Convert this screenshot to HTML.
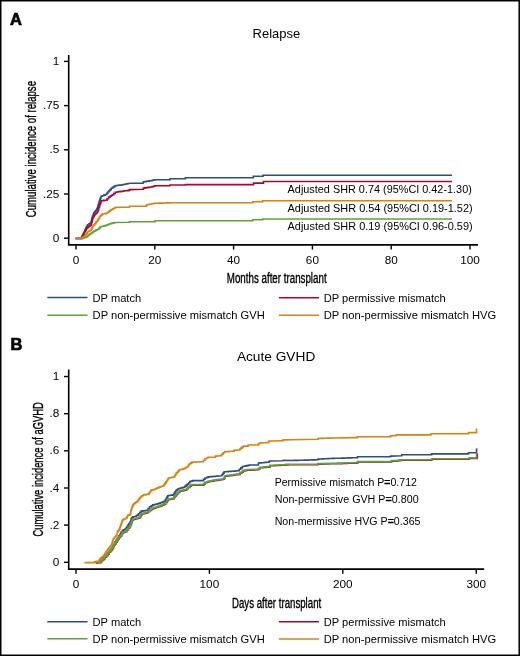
<!DOCTYPE html>
<html><head><meta charset="utf-8"><title>Relapse and Acute GVHD</title>
<style>
html,body{margin:0;padding:0;background:#fff;}
body{width:520px;height:656px;overflow:hidden;}
svg{display:block;will-change:transform;}
text{font-family:"Liberation Sans",sans-serif;fill:#000;}
</style></head><body>
<svg width="520" height="656" viewBox="0 0 520 656">
<rect x="0.75" y="0.75" width="518.45" height="654.5" fill="#fff" stroke="#000" stroke-width="1.5"/>
<text x="10" y="24.7" font-size="16.5" text-anchor="start" font-weight="bold" stroke="#000" stroke-width="0.7">A</text>
<text x="252.6" y="37.5" font-size="13.6" text-anchor="start" font-weight="normal" textLength="47.6" lengthAdjust="spacingAndGlyphs">Relapse</text>
<path d="M68.7,55 V245.7 M68,244.9 H478" stroke="#000" stroke-width="1.6" fill="none"/>
<path d="M64,61.4 H68.5" stroke="#000" stroke-width="1.4"/>
<text x="59.4" y="65.0" font-size="10.7" text-anchor="end" font-weight="normal" textLength="6.55" lengthAdjust="spacingAndGlyphs">1</text>
<path d="M64,105.6 H68.5" stroke="#000" stroke-width="1.4"/>
<text x="59.4" y="109.19999999999999" font-size="10.7" text-anchor="end" font-weight="normal" textLength="16.36" lengthAdjust="spacingAndGlyphs">.75</text>
<path d="M64,149.8 H68.5" stroke="#000" stroke-width="1.4"/>
<text x="59.4" y="153.4" font-size="10.7" text-anchor="end" font-weight="normal" textLength="9.81" lengthAdjust="spacingAndGlyphs">.5</text>
<path d="M64,194 H68.5" stroke="#000" stroke-width="1.4"/>
<text x="59.4" y="197.6" font-size="10.7" text-anchor="end" font-weight="normal" textLength="16.36" lengthAdjust="spacingAndGlyphs">.25</text>
<path d="M64,238.2 H68.5" stroke="#000" stroke-width="1.4"/>
<text x="59.4" y="241.79999999999998" font-size="10.7" text-anchor="end" font-weight="normal" textLength="6.55" lengthAdjust="spacingAndGlyphs">0</text>
<path d="M76,245.5 V249.5" stroke="#000" stroke-width="1.4"/>
<text x="76" y="263.7" font-size="10.7" text-anchor="middle" font-weight="normal" textLength="6.55" lengthAdjust="spacingAndGlyphs">0</text>
<path d="M154.8,245.5 V249.5" stroke="#000" stroke-width="1.4"/>
<text x="154.8" y="263.7" font-size="10.7" text-anchor="middle" font-weight="normal" textLength="13.09" lengthAdjust="spacingAndGlyphs">20</text>
<path d="M233.6,245.5 V249.5" stroke="#000" stroke-width="1.4"/>
<text x="233.6" y="263.7" font-size="10.7" text-anchor="middle" font-weight="normal" textLength="13.09" lengthAdjust="spacingAndGlyphs">40</text>
<path d="M312.4,245.5 V249.5" stroke="#000" stroke-width="1.4"/>
<text x="312.4" y="263.7" font-size="10.7" text-anchor="middle" font-weight="normal" textLength="13.09" lengthAdjust="spacingAndGlyphs">60</text>
<path d="M391.2,245.5 V249.5" stroke="#000" stroke-width="1.4"/>
<text x="391.2" y="263.7" font-size="10.7" text-anchor="middle" font-weight="normal" textLength="13.09" lengthAdjust="spacingAndGlyphs">80</text>
<path d="M470,245.5 V249.5" stroke="#000" stroke-width="1.4"/>
<text x="470" y="263.7" font-size="10.7" text-anchor="middle" font-weight="normal" textLength="19.64" lengthAdjust="spacingAndGlyphs">100</text>
<text x="226.8" y="283.3" font-size="14" text-anchor="start" font-weight="normal" textLength="99.8" lengthAdjust="spacingAndGlyphs" stroke="#000" stroke-width="0.35">Months after transplant</text>
<text transform="translate(35.9,217.2) rotate(-90)" x="0" y="0" font-size="14" textLength="136.2" lengthAdjust="spacingAndGlyphs" stroke="#000" stroke-width="0.35">Cumulative incidence of relapse</text>
<polyline points="75.5,238.3 81.3,238.3 81.6,238.3 81.6,237.1 82.3,237.1 82.3,235.8 83.0,235.8 83.0,234.4 83.7,234.4 83.7,233.2 84.0,233.2 84.3,233.2 84.3,231.8 84.8,231.8 84.8,230.3 85.4,230.3 85.4,229.0 86.0,229.0 86.0,227.6 86.5,227.6 86.5,226.2 86.8,226.2 87.5,226.2 87.5,224.9 88.9,224.9 88.9,223.7 90.4,223.7 90.4,222.5 91.1,222.5 91.2,222.5 91.2,221.2 91.5,221.2 91.5,220.0 91.8,220.0 91.8,218.8 92.1,218.8 92.1,217.6 92.3,217.6 92.6,217.6 92.6,216.0 93.2,216.0 93.2,214.3 93.8,214.3 93.8,212.8 94.1,212.8 94.6,212.8 94.6,211.5 95.7,211.5 95.7,210.3 96.7,210.3 96.7,209.1 97.2,209.1 97.4,209.1 97.4,207.6 97.8,207.6 97.8,206.2 98.2,206.2 98.2,204.8 98.6,204.8 98.6,203.4 99.0,203.4 99.0,202.0 99.4,202.0 99.4,200.6 99.6,200.6 99.9,200.6 99.9,199.1 100.5,199.1 100.5,197.7 101.1,197.7 101.1,196.2 101.4,196.2 102.2,196.2 102.2,195.7 103.7,195.7 103.7,195.1 104.5,195.1 105.4,195.1 105.4,194.5 106.3,194.5 106.8,194.5 106.8,193.2 107.8,193.2 107.8,192.0 108.9,192.0 108.9,190.8 109.4,190.8 110.0,190.8 110.0,189.6 111.2,189.6 111.2,188.3 111.8,188.3 112.4,188.3 112.4,187.4 113.7,187.4 113.7,186.6 114.9,186.6 114.9,185.7 115.5,185.7 116.3,185.7 116.3,185.5 117.8,185.5 117.8,185.3 119.3,185.3 119.3,185.1 120.8,185.1 120.8,185.0 121.6,185.0 122.2,185.0 122.2,184.7 123.4,184.7 123.4,184.5 124.0,184.5 124.6,184.5 124.6,184.2 125.8,184.2 125.8,184.0 127.1,184.0 127.1,183.7 128.3,183.7 128.3,183.5 128.9,183.5 130.1,183.2 143.1,183.2 143.1,182.2 143.7,182.2 143.7,181.8 145.0,181.8 145.0,181.6 146.3,181.6 146.3,181.2 146.9,181.2 147.7,181.2 147.7,181.1 149.2,181.1 149.2,180.8 150.7,180.8 150.7,180.7 151.5,180.7 152.2,180.7 152.2,180.3 153.4,180.3 153.4,180.0 154.8,180.0 154.8,179.7 155.4,179.7 170.0,179.7 170.0,178.7 185.4,178.7 185.4,177.7 253.3,177.7 253.3,176.2 263.0,176.2 263.0,175.2 452.0,175.2" fill="none" stroke="#2e4e82" stroke-width="1.6" stroke-linejoin="miter" stroke-linecap="butt"/>
<polyline points="75.5,238.6 81.3,238.6 81.8,238.6 81.8,237.0 82.2,237.0 82.5,237.0 82.5,235.6 83.2,235.6 83.2,234.2 84.0,234.2 84.0,232.7 84.7,232.7 84.7,231.3 85.0,231.3 85.4,231.3 85.4,230.1 86.2,230.1 86.2,228.8 87.0,228.8 87.0,227.6 87.4,227.6 88.0,227.6 88.0,226.8 89.2,226.8 89.2,226.0 90.5,226.0 90.5,225.2 91.1,225.2 91.3,225.2 91.3,223.7 91.6,223.7 91.6,222.2 92.0,222.2 92.0,220.8 92.4,220.8 92.4,219.3 92.7,219.3 92.7,217.8 92.9,217.8 93.3,217.8 93.3,216.6 94.1,216.6 94.1,215.4 94.9,215.4 94.9,214.2 95.3,214.2 95.9,214.2 95.9,213.0 97.2,213.0 97.2,211.7 97.8,211.7 98.0,211.7 98.0,210.2 98.5,210.2 98.5,208.7 98.9,208.7 98.9,207.1 99.4,207.1 99.4,205.6 99.6,205.6 99.9,205.6 99.9,204.0 100.5,204.0 100.5,202.4 101.1,202.4 101.1,200.8 101.4,200.8 102.2,200.8 102.2,200.6 103.8,200.6 103.8,200.4 105.5,200.4 105.5,200.2 106.3,200.2 107.1,200.2 107.1,198.7 108.6,198.7 108.6,197.1 109.4,197.1 110.0,197.1 110.0,196.3 111.2,196.3 111.2,195.5 112.4,195.5 112.4,194.7 113.0,194.7 113.8,194.7 113.8,193.5 115.3,193.5 115.3,192.2 116.1,192.2 116.8,192.2 116.8,192.0 118.2,192.0 118.2,191.8 119.6,191.8 119.6,191.6 120.3,191.6 120.9,191.6 120.9,191.4 122.2,191.4 122.2,191.2 123.4,191.2 123.4,191.0 124.0,191.0 124.6,191.0 124.6,190.8 125.8,190.8 125.8,190.7 127.1,190.7 127.1,190.6 128.3,190.6 128.3,190.4 128.9,190.4 129.5,190.4 129.5,189.6 130.1,189.6 143.1,189.2 143.4,189.2 143.4,188.1 143.8,188.1 144.6,188.1 144.6,187.9 146.1,187.9 146.1,187.7 147.7,187.7 147.7,187.4 149.2,187.4 149.2,187.2 150.7,187.2 150.7,187.0 151.5,187.0 152.2,187.0 152.2,186.6 153.4,186.6 153.4,186.2 154.8,186.2 154.8,185.8 155.4,185.8 170.0,185.8 170.0,185.0 185.4,185.0 185.4,184.6 253.5,184.6 253.5,183.1 263.5,183.1 263.5,181.5 452.0,181.5" fill="none" stroke="#a8082f" stroke-width="1.6" stroke-linejoin="miter" stroke-linecap="butt"/>
<polyline points="82.5,238.4 83.1,238.4 83.1,238.0 84.3,238.0 84.3,237.6 85.6,237.6 85.6,237.2 86.2,237.2 86.8,237.2 86.8,236.2 88.0,236.2 88.0,235.3 88.6,235.3 89.2,235.3 89.2,234.4 90.4,234.4 90.4,233.5 91.7,233.5 91.7,232.6 92.9,232.6 92.9,231.7 93.5,231.7 94.1,231.7 94.1,231.1 95.3,231.1 95.3,230.4 96.6,230.4 96.6,229.8 97.8,229.8 97.8,229.2 98.4,229.2 99.0,229.2 99.0,228.0 100.2,228.0 100.2,226.8 100.8,226.8 101.4,226.8 101.4,226.5 102.6,226.5 102.6,226.2 103.9,226.2 103.9,225.9 105.1,225.9 105.1,225.6 105.7,225.6 106.5,225.6 106.5,225.0 108.2,225.0 108.2,224.3 109.8,224.3 109.8,223.7 110.6,223.7 111.2,223.7 111.2,223.4 112.4,223.4 112.4,223.1 113.7,223.1 113.7,222.8 114.9,222.8 114.9,222.5 115.5,222.5 128.9,222.2 129.5,222.2 129.5,221.7 130.1,221.7 155.0,221.7 155.0,220.8 252.7,220.8 252.7,219.8 262.7,219.8 262.7,219.0 452.0,219.0" fill="none" stroke="#5ea43a" stroke-width="1.6" stroke-linejoin="miter" stroke-linecap="butt"/>
<polyline points="75.5,238.3 81.3,238.3 81.9,238.3 81.9,237.5 83.2,237.5 83.2,236.7 84.4,236.7 84.4,235.8 85.0,235.8 85.5,235.8 85.5,234.4 86.5,234.4 86.5,233.1 87.5,233.1 87.5,231.7 88.0,231.7 88.8,231.7 88.8,231.0 90.3,231.0 90.3,230.3 91.1,230.3 91.4,230.3 91.4,228.9 92.0,228.9 92.0,227.6 92.6,227.6 92.6,226.2 92.9,226.2 93.5,226.2 93.5,224.9 94.7,224.9 94.7,223.7 95.3,223.7 95.8,223.7 95.8,222.4 96.7,222.4 96.7,221.2 97.2,221.2 97.6,221.2 97.6,220.0 98.3,220.0 98.3,218.8 99.1,218.8 99.1,217.6 99.8,217.6 99.8,216.3 100.2,216.3 100.8,216.3 100.8,215.2 102.1,215.2 102.1,214.0 102.7,214.0 103.4,214.0 103.4,213.8 104.8,213.8 104.8,213.6 106.2,213.6 106.2,213.3 106.9,213.3 107.5,213.3 107.5,212.3 108.8,212.3 108.8,211.3 110.0,211.3 110.0,210.2 110.6,210.2 111.3,210.2 111.3,209.5 112.7,209.5 112.7,208.8 114.0,208.8 114.0,208.0 115.4,208.0 115.4,207.2 116.1,207.2 128.9,207.2 129.5,207.2 129.5,206.3 130.1,206.3 146.2,206.1 146.6,206.1 146.6,204.8 146.9,204.8 147.7,204.8 147.7,204.5 149.2,204.5 149.2,204.2 150.7,204.2 150.7,204.0 151.5,204.0 152.2,204.0 152.2,203.7 153.4,203.7 153.4,203.5 154.8,203.5 154.8,203.2 155.4,203.2 156.1,203.2 156.1,203.2 157.6,203.2 157.6,203.2 159.1,203.2 159.1,203.1 160.5,203.1 160.5,203.1 162.0,203.1 162.0,203.1 163.4,203.1 163.4,203.0 164.9,203.0 164.9,203.0 166.3,203.0 166.3,202.9 167.8,202.9 167.8,202.9 169.3,202.9 169.3,202.8 170.0,202.8 252.7,202.8 252.7,201.8 262.7,201.8 262.7,200.8 452.0,200.8" fill="none" stroke="#d9820e" stroke-width="1.6" stroke-linejoin="miter" stroke-linecap="butt"/>
<text x="287.6" y="192.5" font-size="10.6" text-anchor="start" font-weight="normal" textLength="184.2" lengthAdjust="spacingAndGlyphs">Adjusted SHR 0.74 (95%CI 0.42-1.30)</text>
<text x="287.6" y="211.8" font-size="10.6" text-anchor="start" font-weight="normal" textLength="185" lengthAdjust="spacingAndGlyphs">Adjusted SHR 0.54 (95%CI 0.19-1.52)</text>
<text x="287.6" y="230.1" font-size="10.6" text-anchor="start" font-weight="normal" textLength="185" lengthAdjust="spacingAndGlyphs">Adjusted SHR 0.19 (95%CI 0.96-0.59)</text>
<path d="M47.3,297.6 H87.5" stroke="#2e4e82" stroke-width="1.5"/>
<path d="M47.3,315.3 H87.5" stroke="#5ea43a" stroke-width="1.5"/>
<path d="M278.9,297.7 H319" stroke="#a8082f" stroke-width="1.5"/>
<path d="M278.9,315.3 H319" stroke="#d9820e" stroke-width="1.5"/>
<text x="92.6" y="301.6" font-size="11.6" text-anchor="start" font-weight="normal" textLength="48.6" lengthAdjust="spacingAndGlyphs">DP match</text>
<text x="92.6" y="318.9" font-size="11.6" text-anchor="start" font-weight="normal" textLength="172.2" lengthAdjust="spacingAndGlyphs">DP non-permissive mismatch GVH</text>
<text x="323.7" y="301.6" font-size="11.6" text-anchor="start" font-weight="normal" textLength="122.1" lengthAdjust="spacingAndGlyphs">DP permissive mismatch</text>
<text x="323.7" y="318.9" font-size="11.6" text-anchor="start" font-weight="normal" textLength="172.5" lengthAdjust="spacingAndGlyphs">DP non-permissive mismatch HVG</text>
<text x="10.6" y="349.6" font-size="16.5" text-anchor="start" font-weight="bold" stroke="#000" stroke-width="0.7">B</text>
<text x="236.9" y="361.3" font-size="13.6" text-anchor="start" font-weight="normal" textLength="78.4" lengthAdjust="spacingAndGlyphs">Acute GVHD</text>
<path d="M68.7,369.6 V569.9 M68,569.1 H484.1" stroke="#000" stroke-width="1.6" fill="none"/>
<path d="M64,376.5 H68.5" stroke="#000" stroke-width="1.4"/>
<text x="59.4" y="380.1" font-size="10.7" text-anchor="end" font-weight="normal" textLength="6.55" lengthAdjust="spacingAndGlyphs">1</text>
<path d="M64,413.7 H68.5" stroke="#000" stroke-width="1.4"/>
<text x="59.4" y="417.3" font-size="10.7" text-anchor="end" font-weight="normal" textLength="9.81" lengthAdjust="spacingAndGlyphs">.8</text>
<path d="M64,450.8 H68.5" stroke="#000" stroke-width="1.4"/>
<text x="59.4" y="454.40000000000003" font-size="10.7" text-anchor="end" font-weight="normal" textLength="9.81" lengthAdjust="spacingAndGlyphs">.6</text>
<path d="M64,488 H68.5" stroke="#000" stroke-width="1.4"/>
<text x="59.4" y="491.6" font-size="10.7" text-anchor="end" font-weight="normal" textLength="9.81" lengthAdjust="spacingAndGlyphs">.4</text>
<path d="M64,525.1 H68.5" stroke="#000" stroke-width="1.4"/>
<text x="59.4" y="528.7" font-size="10.7" text-anchor="end" font-weight="normal" textLength="9.81" lengthAdjust="spacingAndGlyphs">.2</text>
<path d="M64,562.3 H68.5" stroke="#000" stroke-width="1.4"/>
<text x="59.4" y="565.9" font-size="10.7" text-anchor="end" font-weight="normal" textLength="6.55" lengthAdjust="spacingAndGlyphs">0</text>
<path d="M76,569.6 V573.7" stroke="#000" stroke-width="1.4"/>
<text x="76" y="587.7" font-size="10.7" text-anchor="middle" font-weight="normal" textLength="6.55" lengthAdjust="spacingAndGlyphs">0</text>
<path d="M209.4,569.6 V573.7" stroke="#000" stroke-width="1.4"/>
<text x="209.4" y="587.7" font-size="10.7" text-anchor="middle" font-weight="normal" textLength="19.64" lengthAdjust="spacingAndGlyphs">100</text>
<path d="M342.8,569.6 V573.7" stroke="#000" stroke-width="1.4"/>
<text x="342.8" y="587.7" font-size="10.7" text-anchor="middle" font-weight="normal" textLength="19.64" lengthAdjust="spacingAndGlyphs">200</text>
<path d="M476.25,569.6 V573.7" stroke="#000" stroke-width="1.4"/>
<text x="476.25" y="587.7" font-size="10.7" text-anchor="middle" font-weight="normal" textLength="19.64" lengthAdjust="spacingAndGlyphs">300</text>
<text x="232" y="607.5" font-size="14" text-anchor="start" font-weight="normal" textLength="89.2" lengthAdjust="spacingAndGlyphs" stroke="#000" stroke-width="0.35">Days after transplant</text>
<text transform="translate(42.6,536.6) rotate(-90)" x="0" y="0" font-size="14" textLength="134.4" lengthAdjust="spacingAndGlyphs" stroke="#000" stroke-width="0.35">Cumulative incidence of aGVHD</text>
<polyline points="96.5,562.6 97.1,562.6 97.1,562.4 98.3,562.4 98.3,562.1 99.6,562.1 99.6,561.9 100.2,561.9 100.9,561.9 100.9,560.5 102.2,560.5 102.2,559.1 102.9,559.1 103.6,559.1 103.6,557.8 104.9,557.8 104.9,556.4 105.6,556.4 106.3,556.4 106.3,554.8 107.6,554.8 107.6,553.1 108.3,553.1 109.0,553.1 109.0,551.4 110.3,551.4 110.3,549.7 111.0,549.7 111.5,549.7 111.5,548.0 112.7,548.0 112.7,546.3 113.2,546.3 113.6,546.3 113.6,544.8 114.3,544.8 114.3,543.4 115.0,543.4 115.0,541.9 115.4,541.9 116.0,541.9 116.0,540.3 117.2,540.3 117.2,538.8 117.8,538.8 118.2,538.8 118.2,537.3 119.1,537.3 119.1,535.8 119.6,535.8 119.9,535.8 119.9,534.6 120.5,534.6 120.5,533.3 121.2,533.3 121.2,532.1 121.5,532.1 122.4,532.1 122.4,530.3 123.3,530.3 123.9,530.3 123.9,529.7 125.1,529.7 125.1,529.1 125.7,529.1 126.2,529.1 126.2,527.7 127.1,527.7 127.1,526.3 127.6,526.3 128.1,526.3 128.1,524.9 128.9,524.9 128.9,523.6 129.4,523.6 130.0,523.6 130.0,521.8 130.6,521.8 130.8,521.8 130.8,520.4 131.2,520.4 131.2,518.9 131.6,518.9 131.6,517.5 131.8,517.5 132.8,517.5 132.8,516.9 133.7,516.9 135.4,516.5 136.0,516.5 136.0,515.8 137.1,515.8 137.1,515.1 137.7,515.1 138.4,515.1 138.4,513.8 139.8,513.8 139.8,512.4 141.2,512.4 141.2,511.1 141.9,511.1 142.6,511.1 142.6,510.9 143.9,510.9 143.9,510.7 145.3,510.7 145.3,510.5 146.6,510.5 146.6,510.3 147.3,510.3 148.1,510.3 148.1,508.6 149.6,508.6 149.6,506.8 150.4,506.8 151.2,506.8 151.2,505.9 152.7,505.9 152.7,504.9 153.5,504.9 154.3,504.9 154.3,504.5 155.8,504.5 155.8,504.2 157.3,504.2 157.3,503.8 158.8,503.8 158.8,503.4 159.6,503.4 160.3,503.4 160.3,502.8 161.6,502.8 161.6,502.2 163.0,502.2 163.0,501.7 164.3,501.7 164.3,501.1 165.0,501.1 165.4,501.1 165.4,499.8 166.2,499.8 166.2,498.4 166.9,498.4 166.9,497.1 167.7,497.1 167.7,495.7 168.1,495.7 168.8,495.7 168.8,495.5 170.1,495.5 170.1,495.3 171.5,495.3 171.5,495.1 172.8,495.1 172.8,494.9 173.5,494.9 174.0,494.9 174.0,493.4 175.0,493.4 175.0,491.8 176.0,491.8 176.0,490.3 176.5,490.3 177.1,490.3 177.1,489.6 178.2,489.6 178.2,488.8 178.8,488.8 179.5,488.8 179.5,488.4 180.8,488.4 180.8,488.0 182.2,488.0 182.2,487.6 183.5,487.6 183.5,487.2 184.2,487.2 184.8,487.2 184.8,486.2 186.1,486.2 186.1,485.1 187.4,485.1 187.4,484.1 188.1,484.1 188.7,484.1 188.7,482.8 189.8,482.8 189.8,481.5 190.4,481.5 191.2,481.5 191.2,481.1 192.7,481.1 192.7,480.6 193.5,480.6 202.7,480.6 203.5,480.6 203.5,479.3 205.0,479.3 205.0,478.0 205.8,478.0 206.6,478.0 206.6,477.5 208.1,477.5 208.1,476.9 208.8,476.9 209.5,476.9 209.5,476.8 211.0,476.8 211.0,476.6 212.5,476.6 212.5,476.5 214.0,476.5 214.0,476.4 215.5,476.4 215.5,476.2 217.0,476.2 217.0,476.1 217.7,476.1 221.5,475.8 222.0,475.8 222.0,474.5 223.1,474.5 223.1,473.1 224.1,473.1 224.1,471.8 224.6,471.8 225.3,471.8 225.3,471.7 226.7,471.7 226.7,471.6 228.2,471.6 228.2,471.5 229.6,471.5 229.6,471.4 231.0,471.4 231.0,471.3 232.5,471.3 232.5,471.2 233.9,471.2 233.9,471.1 234.6,471.1 235.2,471.1 235.2,471.0 236.6,471.0 236.6,470.8 237.8,470.8 237.8,470.7 238.5,470.7 239.3,470.7 239.3,469.3 240.8,469.3 240.8,467.9 242.3,467.9 242.3,466.5 243.1,466.5 243.9,466.5 243.9,466.2 245.4,466.2 245.4,465.9 246.9,465.9 246.9,465.6 247.7,465.6 248.3,465.6 248.3,465.3 249.4,465.3 249.4,465.0 250.0,465.0 257.7,465.0 258.4,465.0 258.4,463.0 259.2,463.0 259.9,463.0 259.9,462.9 261.2,462.9 261.2,462.8 262.5,462.8 262.5,462.7 263.9,462.7 263.9,462.5 265.2,462.5 265.2,462.4 266.5,462.4 266.5,462.3 267.8,462.3 267.8,462.2 268.5,462.2 269.2,462.2 269.2,461.0 270.0,461.0 282.3,460.7 283.8,460.4 291.7,460.5 292.4,460.5 292.4,460.5 293.8,460.5 293.8,460.4 295.1,460.4 295.1,460.4 296.5,460.4 296.5,460.4 297.9,460.4 297.9,460.3 299.2,460.3 299.2,460.3 300.6,460.3 300.6,460.2 302.0,460.2 302.0,460.2 303.3,460.2 303.3,460.2 304.7,460.2 304.7,460.1 306.1,460.1 306.1,460.1 307.4,460.1 307.4,460.1 308.8,460.1 308.8,460.0 310.2,460.0 310.2,460.0 311.5,460.0 311.5,459.9 312.9,459.9 312.9,459.9 314.3,459.9 314.3,459.9 315.6,459.9 315.6,459.8 317.0,459.8 317.0,459.8 317.7,459.8 318.1,459.8 318.1,459.1 318.6,459.1 319.3,459.1 319.3,459.0 320.7,459.0 320.7,459.0 322.1,459.0 322.1,458.9 323.4,458.9 323.4,458.8 324.8,458.8 324.8,458.8 326.2,458.8 326.2,458.7 327.6,458.7 327.6,458.6 328.9,458.6 328.9,458.5 330.3,458.5 330.3,458.5 331.7,458.5 331.7,458.4 332.4,458.4 333.1,458.4 333.1,458.4 334.5,458.4 334.5,458.3 336.0,458.3 336.0,458.3 337.4,458.3 337.4,458.2 338.8,458.2 338.8,458.2 340.2,458.2 340.2,458.2 341.7,458.2 341.7,458.1 343.1,458.1 343.1,458.1 344.5,458.1 344.5,458.0 345.9,458.0 345.9,458.0 347.3,458.0 347.3,457.9 348.8,457.9 348.8,457.9 350.2,457.9 350.2,457.9 351.6,457.9 351.6,457.8 353.0,457.8 353.0,457.8 354.5,457.8 354.5,457.7 355.9,457.7 355.9,457.7 356.6,457.7 357.5,457.7 357.5,456.8 358.4,456.8 390.0,456.8 390.6,456.8 390.6,456.1 391.2,456.1 401.5,455.8 401.8,455.8 401.8,454.7 402.1,454.7 431.0,454.7 431.6,454.7 431.6,453.9 432.1,453.9 468.5,453.9 468.5,452.8 476.5,452.8 476.5,449.4 477.6,449.4" fill="none" stroke="#2e4e82" stroke-width="1.6" stroke-linejoin="miter" stroke-linecap="butt"/>
<polyline points="95.7,563.0 100.4,562.7 101.1,562.7 101.1,561.4 102.4,561.4 102.4,560.0 103.1,560.0 103.8,560.0 103.8,558.6 105.1,558.6 105.1,557.3 105.8,557.3 106.5,557.3 106.5,555.6 107.8,555.6 107.8,554.0 108.5,554.0 109.2,554.0 109.2,552.3 110.5,552.3 110.5,550.6 111.2,550.6 111.8,550.6 111.8,549.0 112.9,549.0 112.9,547.5 113.4,547.5 113.6,547.5 113.6,546.3 114.1,546.3 114.1,545.1 114.3,545.1 114.9,545.1 114.9,543.6 116.2,543.6 116.2,542.1 116.8,542.1 117.2,542.1 117.2,540.5 118.2,540.5 118.2,539.0 118.6,539.0 119.2,539.0 119.2,537.5 120.5,537.5 120.5,536.0 121.1,536.0 121.6,536.0 121.6,534.5 122.5,534.5 122.5,532.9 122.9,532.9 123.7,532.9 123.7,532.3 125.2,532.3 125.2,531.7 125.9,531.7 126.8,531.7 126.8,529.9 127.8,529.9 128.4,529.9 128.4,528.3 129.6,528.3 129.6,526.8 130.2,526.8 130.5,526.8 130.5,525.3 131.1,525.3 131.1,523.8 131.4,523.8 131.6,523.8 131.6,522.6 132.0,522.6 132.0,521.3 132.4,521.3 132.4,520.1 132.6,520.1 133.6,520.1 133.6,519.2 134.5,519.2 135.1,519.2 135.1,519.0 136.1,519.0 136.1,518.8 136.7,518.8 137.6,518.8 137.6,518.2 139.3,518.2 139.3,517.6 140.2,517.6 140.5,517.6 140.5,516.4 141.1,516.4 141.1,515.2 141.8,515.2 141.8,514.0 142.1,514.0 142.8,514.0 142.8,513.7 144.1,513.7 144.1,513.4 145.5,513.4 145.5,513.1 146.8,513.1 146.8,512.8 147.5,512.8 148.2,512.8 148.2,511.8 149.4,511.8 149.4,510.7 150.7,510.7 150.7,509.7 151.4,509.7 152.1,509.7 152.1,508.9 153.6,508.9 153.6,508.2 154.4,508.2 155.1,508.2 155.1,507.7 156.5,507.7 156.5,507.3 157.9,507.3 157.9,506.8 159.3,506.8 159.3,506.4 160.7,506.4 160.7,505.9 161.4,505.9 162.2,505.9 162.2,505.1 163.7,505.1 163.7,504.4 165.2,504.4 165.2,503.6 166.0,503.6 166.4,503.6 166.4,502.3 167.1,502.3 167.1,501.0 167.9,501.0 167.9,499.7 168.3,499.7 169.0,499.7 169.0,499.4 170.3,499.4 170.3,499.2 171.7,499.2 171.7,498.9 173.0,498.9 173.0,498.7 173.7,498.7 174.2,498.7 174.2,497.4 175.1,497.4 175.1,496.1 176.1,496.1 176.1,494.9 177.0,494.9 177.0,493.6 177.5,493.6 178.3,493.6 178.3,492.5 179.8,492.5 179.8,491.3 180.6,491.3 181.3,491.3 181.3,491.0 182.6,491.0 182.6,490.6 184.0,490.6 184.0,490.3 185.3,490.3 185.3,490.0 186.0,490.0 186.8,490.0 186.8,488.7 188.2,488.7 188.2,487.4 189.0,487.4 189.8,487.4 189.8,486.2 191.3,486.2 191.3,485.1 192.1,485.1 202.9,485.1 203.7,485.1 203.7,484.0 205.2,484.0 205.2,482.8 206.0,482.8 206.8,482.8 206.8,482.2 208.2,482.2 208.2,481.7 209.0,481.7 209.7,481.7 209.7,481.4 211.2,481.4 211.2,481.2 212.7,481.2 212.7,480.9 214.2,480.9 214.2,480.6 215.7,480.6 215.7,480.4 217.2,480.4 217.2,480.1 217.9,480.1 218.7,480.1 218.7,479.9 220.2,479.9 220.2,479.7 221.7,479.7 221.7,479.5 223.2,479.5 223.2,479.3 224.0,479.3 224.4,479.3 224.4,477.8 225.2,477.8 225.2,476.3 225.6,476.3 226.3,476.3 226.3,476.1 227.6,476.1 227.6,475.9 228.9,475.9 228.9,475.7 230.2,475.7 230.2,475.6 231.5,475.6 231.5,475.4 232.8,475.4 232.8,475.2 234.1,475.2 234.1,475.0 234.8,475.0 235.6,475.0 235.6,474.8 237.1,474.8 237.1,474.6 238.6,474.6 238.6,474.4 239.4,474.4 240.2,474.4 240.2,473.2 241.7,473.2 241.7,472.1 243.2,472.1 243.2,470.9 244.0,470.9 244.7,470.9 244.7,470.6 245.9,470.6 245.9,470.4 247.2,470.4 247.2,470.1 247.9,470.1 257.9,469.8 258.7,469.8 258.7,468.8 260.2,468.8 260.2,467.8 261.0,467.8 261.7,467.8 261.7,467.7 263.1,467.7 263.1,467.5 264.5,467.5 264.5,467.4 265.9,467.4 265.9,467.3 267.3,467.3 267.3,467.1 268.7,467.1 268.7,467.0 269.4,467.0 270.2,467.0 270.2,465.8 271.0,465.8 271.7,465.8 271.7,465.7 273.2,465.7 273.2,465.7 274.6,465.7 274.6,465.6 276.1,465.6 276.1,465.5 277.5,465.5 277.5,465.5 278.9,465.5 278.9,465.4 280.4,465.4 280.4,465.3 281.8,465.3 281.8,465.3 283.3,465.3 283.3,465.2 284.0,465.2 284.8,465.2 284.8,465.1 286.3,465.1 286.3,464.9 287.9,464.9 287.9,464.8 289.4,464.8 289.4,464.7 290.2,464.7 317.9,464.7 317.9,464.1 332.6,463.8 333.3,463.8 333.3,463.8 334.7,463.8 334.7,463.7 336.2,463.7 336.2,463.7 337.6,463.7 337.6,463.6 339.0,463.6 339.0,463.6 340.4,463.6 340.4,463.6 341.9,463.6 341.9,463.5 343.3,463.5 343.3,463.5 344.7,463.5 344.7,463.4 346.1,463.4 346.1,463.4 347.5,463.4 347.5,463.3 349.0,463.3 349.0,463.3 350.4,463.3 350.4,463.3 351.8,463.3 351.8,463.2 353.2,463.2 353.2,463.2 354.7,463.2 354.7,463.1 356.1,463.1 356.1,463.1 356.8,463.1 357.7,463.1 357.7,462.0 358.6,462.0 391.4,462.0 391.6,462.0 391.6,461.1 391.9,461.1 397.1,460.9 397.8,460.9 397.8,460.8 399.0,460.8 399.0,460.6 400.4,460.6 400.4,460.4 401.6,460.4 401.6,460.3 402.3,460.3 431.2,460.3 431.8,460.3 431.8,459.3 432.3,459.3 469.3,459.3 469.3,458.4 476.7,458.4 477.0,458.4 477.0,457.9 477.3,457.9 477.3,453.2" fill="none" stroke="#a8082f" stroke-width="1.6" stroke-linejoin="miter" stroke-linecap="butt"/>
<polyline points="95.5,562.5 100.2,562.2 100.9,562.2 100.9,560.9 102.2,560.9 102.2,559.5 102.9,559.5 103.6,559.5 103.6,558.1 104.9,558.1 104.9,556.8 105.6,556.8 106.3,556.8 106.3,555.1 107.6,555.1 107.6,553.5 108.3,553.5 109.0,553.5 109.0,551.8 110.3,551.8 110.3,550.1 111.0,550.1 111.5,550.1 111.5,548.5 112.7,548.5 112.7,547.0 113.2,547.0 113.4,547.0 113.4,545.8 113.9,545.8 113.9,544.6 114.1,544.6 114.7,544.6 114.7,543.1 116.0,543.1 116.0,541.6 116.6,541.6 117.0,541.6 117.0,540.0 118.0,540.0 118.0,538.5 118.4,538.5 119.0,538.5 119.0,537.0 120.3,537.0 120.3,535.5 120.9,535.5 121.4,535.5 121.4,534.0 122.2,534.0 122.2,532.4 122.7,532.4 123.5,532.4 123.5,531.8 125.0,531.8 125.0,531.2 125.7,531.2 126.7,531.2 126.7,529.4 127.6,529.4 128.2,529.4 128.2,527.8 129.4,527.8 129.4,526.3 130.0,526.3 130.3,526.3 130.3,524.8 130.9,524.8 130.9,523.3 131.2,523.3 131.4,523.3 131.4,522.1 131.8,522.1 131.8,520.8 132.2,520.8 132.2,519.6 132.4,519.6 133.4,519.6 133.4,518.7 134.3,518.7 134.9,518.7 134.9,518.5 135.9,518.5 135.9,518.3 136.5,518.3 137.4,518.3 137.4,517.7 139.1,517.7 139.1,517.1 140.0,517.1 140.3,517.1 140.3,515.9 140.9,515.9 140.9,514.7 141.6,514.7 141.6,513.5 141.9,513.5 142.6,513.5 142.6,513.2 143.9,513.2 143.9,512.9 145.3,512.9 145.3,512.6 146.6,512.6 146.6,512.3 147.3,512.3 148.0,512.3 148.0,511.3 149.2,511.3 149.2,510.2 150.5,510.2 150.5,509.2 151.2,509.2 151.9,509.2 151.9,508.4 153.4,508.4 153.4,507.7 154.2,507.7 154.9,507.7 154.9,507.2 156.3,507.2 156.3,506.8 157.7,506.8 157.7,506.3 159.1,506.3 159.1,505.9 160.5,505.9 160.5,505.4 161.2,505.4 162.0,505.4 162.0,504.6 163.5,504.6 163.5,503.9 165.0,503.9 165.0,503.1 165.8,503.1 166.2,503.1 166.2,501.8 166.9,501.8 166.9,500.5 167.7,500.5 167.7,499.2 168.1,499.2 168.8,499.2 168.8,498.9 170.1,498.9 170.1,498.7 171.5,498.7 171.5,498.4 172.8,498.4 172.8,498.2 173.5,498.2 174.0,498.2 174.0,496.9 174.9,496.9 174.9,495.6 175.9,495.6 175.9,494.4 176.8,494.4 176.8,493.1 177.3,493.1 178.1,493.1 178.1,492.0 179.6,492.0 179.6,490.8 180.4,490.8 181.1,490.8 181.1,490.5 182.4,490.5 182.4,490.1 183.8,490.1 183.8,489.8 185.1,489.8 185.1,489.5 185.8,489.5 186.6,489.5 186.6,488.2 188.1,488.2 188.1,486.9 188.8,486.9 189.6,486.9 189.6,485.8 191.1,485.8 191.1,484.6 191.9,484.6 202.7,484.6 203.5,484.6 203.5,483.5 205.0,483.5 205.0,482.3 205.8,482.3 206.6,482.3 206.6,481.8 208.1,481.8 208.1,481.2 208.8,481.2 209.5,481.2 209.5,480.9 211.0,480.9 211.0,480.7 212.5,480.7 212.5,480.4 214.0,480.4 214.0,480.1 215.5,480.1 215.5,479.9 217.0,479.9 217.0,479.6 217.7,479.6 218.5,479.6 218.5,479.4 220.0,479.4 220.0,479.2 221.5,479.2 221.5,479.0 223.0,479.0 223.0,478.8 223.8,478.8 224.2,478.8 224.2,477.3 225.0,477.3 225.0,475.8 225.4,475.8 226.1,475.8 226.1,475.6 227.4,475.6 227.4,475.4 228.7,475.4 228.7,475.2 230.0,475.2 230.0,475.1 231.3,475.1 231.3,474.9 232.6,474.9 232.6,474.7 233.9,474.7 233.9,474.5 234.6,474.5 235.4,474.5 235.4,474.3 236.9,474.3 236.9,474.1 238.4,474.1 238.4,473.9 239.2,473.9 240.0,473.9 240.0,472.7 241.5,472.7 241.5,471.6 243.0,471.6 243.0,470.4 243.8,470.4 244.5,470.4 244.5,470.1 245.8,470.1 245.8,469.9 247.0,469.9 247.0,469.6 247.7,469.6 257.7,469.3 258.5,469.3 258.5,468.3 260.0,468.3 260.0,467.3 260.8,467.3 261.5,467.3 261.5,467.2 262.9,467.2 262.9,467.0 264.3,467.0 264.3,466.9 265.7,466.9 265.7,466.8 267.1,466.8 267.1,466.6 268.5,466.6 268.5,466.5 269.2,466.5 270.0,466.5 270.0,465.3 270.8,465.3 271.5,465.3 271.5,465.2 273.0,465.2 273.0,465.2 274.4,465.2 274.4,465.1 275.9,465.1 275.9,465.0 277.3,465.0 277.3,465.0 278.7,465.0 278.7,464.9 280.2,464.9 280.2,464.8 281.6,464.8 281.6,464.8 283.1,464.8 283.1,464.7 283.8,464.7 284.6,464.7 284.6,464.6 286.1,464.6 286.1,464.4 287.7,464.4 287.7,464.3 289.2,464.3 289.2,464.2 290.0,464.2 317.7,464.2 317.7,463.6 332.4,463.3 333.1,463.3 333.1,463.3 334.5,463.3 334.5,463.2 336.0,463.2 336.0,463.2 337.4,463.2 337.4,463.1 338.8,463.1 338.8,463.1 340.2,463.1 340.2,463.1 341.7,463.1 341.7,463.0 343.1,463.0 343.1,463.0 344.5,463.0 344.5,462.9 345.9,462.9 345.9,462.9 347.3,462.9 347.3,462.8 348.8,462.8 348.8,462.8 350.2,462.8 350.2,462.8 351.6,462.8 351.6,462.7 353.0,462.7 353.0,462.7 354.5,462.7 354.5,462.6 355.9,462.6 355.9,462.6 356.6,462.6 357.5,462.6 357.5,461.5 358.4,461.5 391.2,461.5 391.4,461.5 391.4,460.6 391.7,460.6 396.9,460.4 397.5,460.4 397.5,460.2 398.9,460.2 398.9,460.1 400.1,460.1 400.1,459.9 401.5,459.9 401.5,459.8 402.1,459.8 431.0,459.8 431.6,459.8 431.6,458.8 432.1,458.8 469.1,458.8 469.1,457.9 476.5,457.9 476.5,453.2" fill="none" stroke="#5ea43a" stroke-width="1.6" stroke-linejoin="miter" stroke-linecap="butt"/>
<polyline points="84.4,562.6 94.5,562.6 94.5,561.7 95.2,561.7 95.2,561.5 96.7,561.5 96.7,561.4 98.1,561.4 98.1,561.2 98.8,561.2 99.2,561.2 99.2,560.1 99.8,560.1 99.8,559.1 100.2,559.1 100.9,559.1 100.9,557.8 102.2,557.8 102.2,556.5 102.9,556.5 103.6,556.5 103.6,555.0 104.9,555.0 104.9,553.4 105.6,553.4 106.0,553.4 106.0,551.9 106.9,551.9 106.9,550.5 107.8,550.5 107.8,549.0 108.3,549.0 108.8,549.0 108.8,547.7 109.8,547.7 109.8,546.4 110.3,546.4 111.0,546.4 111.0,545.3 111.7,545.3 111.8,545.3 111.8,543.9 112.2,543.9 112.2,542.5 112.3,542.5 112.5,542.5 112.5,541.0 113.0,541.0 113.0,539.4 113.2,539.4 113.7,539.4 113.7,538.2 114.6,538.2 114.6,537.0 115.1,537.0 116.0,537.0 116.0,535.8 116.9,535.8 117.2,532.1 117.8,532.1 117.8,530.8 119.0,530.8 119.0,529.4 119.6,529.4 119.8,529.4 119.8,527.7 120.3,527.7 120.3,526.0 120.5,526.0 120.8,526.0 120.8,524.8 121.2,524.8 121.2,523.6 121.5,523.6 121.7,523.6 121.7,522.4 122.1,522.4 122.1,521.1 122.5,521.1 122.5,519.9 122.7,519.9 123.6,519.9 123.6,519.0 124.5,519.0 125.5,519.0 125.5,518.4 126.6,518.4 126.9,518.4 126.9,516.9 127.6,516.9 127.6,515.4 127.9,515.4 128.6,515.4 128.6,514.9 129.9,514.9 129.9,514.4 130.6,514.4 130.9,510.8 131.1,510.8 131.1,509.6 131.6,509.6 131.6,508.3 131.8,508.3 132.0,508.3 132.0,507.1 132.5,507.1 132.5,505.9 132.7,505.9 133.1,505.9 133.1,504.8 133.8,504.8 133.8,503.6 134.2,503.6 134.9,503.6 134.9,502.7 136.4,502.7 136.4,501.8 137.1,501.8 137.6,501.8 137.6,500.5 138.6,500.5 138.6,499.1 139.7,499.1 139.7,497.8 140.7,497.8 140.7,496.5 141.2,496.5 141.9,496.5 141.9,495.7 143.4,495.7 143.4,494.9 144.2,494.9 145.0,494.9 145.0,494.6 146.5,494.6 146.5,494.4 148.0,494.4 148.0,494.1 148.8,494.1 149.2,494.1 149.2,492.8 150.0,492.8 150.0,491.6 150.8,491.6 150.8,490.3 151.2,490.3 151.8,490.3 151.8,489.9 153.1,489.9 153.1,489.6 154.4,489.6 154.4,489.2 155.0,489.2 155.8,489.2 155.8,488.5 157.3,488.5 157.3,487.9 158.8,487.9 158.8,487.2 159.6,487.2 160.2,487.2 160.2,486.7 161.6,486.7 161.6,486.2 162.8,486.2 162.8,485.7 163.5,485.7 164.0,485.7 164.0,484.4 165.0,484.4 165.0,483.1 166.0,483.1 166.0,481.8 166.5,481.8 166.9,481.8 166.9,480.5 167.7,480.5 167.7,479.3 168.4,479.3 168.4,478.0 168.8,478.0 169.5,478.0 169.5,477.7 170.8,477.7 170.8,477.5 172.2,477.5 172.2,477.2 173.5,477.2 173.5,476.9 174.2,476.9 174.8,476.9 174.8,475.2 175.9,475.2 175.9,473.4 176.5,473.4 177.0,473.4 177.0,472.2 178.1,472.2 178.1,471.0 179.1,471.0 179.1,469.8 179.6,469.8 180.4,469.8 180.4,469.5 181.9,469.5 181.9,469.1 183.4,469.1 183.4,468.8 184.2,468.8 184.8,468.8 184.8,468.0 186.1,468.0 186.1,467.3 187.4,467.3 187.4,466.5 188.1,466.5 188.4,466.5 188.4,464.6 188.8,464.6 189.5,464.6 189.5,463.8 190.8,463.8 190.8,462.9 192.0,462.9 192.0,462.1 192.7,462.1 202.7,461.8 203.5,461.8 203.5,460.3 205.0,460.3 205.0,458.8 205.8,458.8 206.6,458.8 206.6,458.0 208.1,458.0 208.1,457.2 208.8,457.2 214.6,457.3 215.4,457.3 215.4,456.1 216.2,456.1 220.8,455.8 221.6,455.8 221.6,454.2 223.1,454.2 223.1,452.7 223.8,452.7 224.6,452.7 224.6,451.8 225.4,451.8 226.1,451.8 226.1,451.7 227.5,451.7 227.5,451.6 228.9,451.6 228.9,451.5 230.3,451.5 230.3,451.3 231.7,451.3 231.7,451.2 233.1,451.2 233.1,451.1 233.8,451.1 234.2,451.1 234.2,450.2 234.6,450.2 239.2,449.9 239.8,449.9 239.8,449.0 240.9,449.0 240.9,448.1 241.5,448.1 242.1,448.1 242.1,447.1 243.2,447.1 243.2,446.1 243.8,446.1 247.7,446.1 248.1,446.1 248.1,445.0 248.5,445.0 257.7,445.0 258.3,445.0 258.3,444.0 259.4,444.0 259.4,443.0 260.0,443.0 260.7,443.0 260.7,442.9 262.1,442.9 262.1,442.8 263.5,442.8 263.5,442.8 265.0,442.8 265.0,442.7 266.4,442.7 266.4,442.6 267.8,442.6 267.8,442.5 268.5,442.5 268.9,442.5 268.9,441.0 269.2,441.0 282.3,440.7 283.1,440.7 283.1,439.9 283.8,439.9 291.7,439.7 317.7,439.3 318.1,439.3 318.1,438.5 318.6,438.5 319.3,438.5 319.3,438.4 320.7,438.4 320.7,438.4 322.1,438.4 322.1,438.4 323.4,438.4 323.4,438.3 324.8,438.3 324.8,438.2 326.2,438.2 326.2,438.2 327.6,438.2 327.6,438.1 328.9,438.1 328.9,438.1 330.3,438.1 330.3,438.1 331.7,438.1 331.7,438.0 332.4,438.0 356.6,437.6 357.5,437.6 357.5,436.7 358.4,436.7 390.0,436.7 390.6,436.7 390.6,435.9 391.2,435.9 391.8,435.9 391.8,435.8 393.1,435.8 393.1,435.7 394.4,435.7 394.4,435.6 395.7,435.6 395.7,435.5 396.3,435.5 396.6,435.5 396.6,434.9 396.9,434.9 430.4,434.9 430.9,434.9 430.9,433.7 431.5,433.7 468.5,433.7 468.5,432.6 476.5,432.6 476.5,428.6" fill="none" stroke="#d9820e" stroke-width="1.6" stroke-linejoin="miter" stroke-linecap="butt"/>
<text x="274.7" y="485.8" font-size="10" text-anchor="start" font-weight="normal" textLength="142.2" lengthAdjust="spacingAndGlyphs">Permissive mismatch P<tspan stroke="#000" stroke-width="0.45">=</tspan>0.712</text>
<text x="274.7" y="503.1" font-size="10" text-anchor="start" font-weight="normal" textLength="143.9" lengthAdjust="spacingAndGlyphs">Non-permissive GVH P<tspan stroke="#000" stroke-width="0.45">=</tspan>0.800</text>
<text x="274.7" y="525.2" font-size="10" text-anchor="start" font-weight="normal" textLength="145.8" lengthAdjust="spacingAndGlyphs">Non-mermissive HVG P<tspan stroke="#000" stroke-width="0.45">=</tspan>0.365</text>
<path d="M47.3,621.7 H87.5" stroke="#2e4e82" stroke-width="1.5"/>
<path d="M47.3,638.8 H87.5" stroke="#5ea43a" stroke-width="1.5"/>
<path d="M278.9,621.8 H319" stroke="#a8082f" stroke-width="1.5"/>
<path d="M278.9,638.9 H319" stroke="#d9820e" stroke-width="1.5"/>
<text x="92.6" y="625.6" font-size="11.6" text-anchor="start" font-weight="normal" textLength="48.6" lengthAdjust="spacingAndGlyphs">DP match</text>
<text x="92.6" y="642.8" font-size="11.6" text-anchor="start" font-weight="normal" textLength="172.2" lengthAdjust="spacingAndGlyphs">DP non-permissive mismatch GVH</text>
<text x="323.7" y="625.6" font-size="11.6" text-anchor="start" font-weight="normal" textLength="122.1" lengthAdjust="spacingAndGlyphs">DP permissive mismatch</text>
<text x="323.7" y="642.8" font-size="11.6" text-anchor="start" font-weight="normal" textLength="172.5" lengthAdjust="spacingAndGlyphs">DP non-permissive mismatch HVG</text>
</svg>
</body></html>
